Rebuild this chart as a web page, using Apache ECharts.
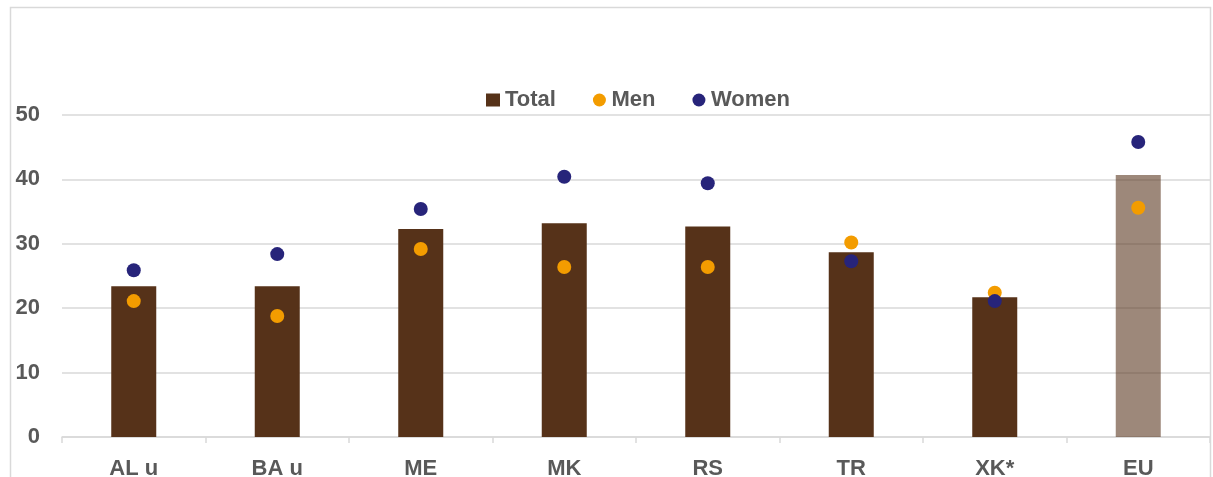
<!DOCTYPE html>
<html>
<head>
<meta charset="utf-8">
<script src="https://cdn.jsdelivr.net/npm/echarts@6/dist/echarts.min.js"></script>
<style>
  html, body { margin: 0; padding: 0; background: #fff; }
  #chart { width: 1213px; height: 477px; }
</style>
</head>
<body>
<div id="chart"></div>
<script>
// Share of population by economy: total (bars), men and women (dots)
const categories = ['AL u', 'BA u', 'ME', 'MK', 'RS', 'TR', 'XK*', 'EU'];
const totalValues = [23.4, 23.4, 32.3, 33.2, 32.7, 28.7, 21.7, 40.7];
const menValues = [21.1, 18.8, 29.2, 26.4, 26.4, 30.2, 22.4, 35.6];
const womenValues = [25.9, 28.4, 35.4, 40.4, 39.4, 27.3, 21.1, 45.8];
const yTicks = [0, 10, 20, 30, 40, 50];

const FONT = '"Liberation Sans", Arial, sans-serif';
const TEXT = '#595959';
const BROWN = '#563219';
const EU_BROWN = 'rgba(86,50,25,0.58)';
const ORANGE = '#f39c00';
const NAVY = '#27247a';

const chart = echarts.init(document.getElementById('chart'), null, { renderer: 'canvas' });

chart.setOption({
  animation: false,
  backgroundColor: '#fff',
  textStyle: { fontFamily: FONT },
  graphic: [{
    type: 'rect',
    shape: { x: 10.5, y: 7.5, width: 1200, height: 480 },
    style: { fill: 'none', stroke: '#d9d9d9', lineWidth: 1.5 },
    silent: true,
    z: -1
  }],
  legend: {
    top: 84,
    left: 481,
    itemGap: 37,
    itemWidth: 14,
    itemHeight: 13,
    textStyle: { fontFamily: FONT, fontSize: 22, fontWeight: 'bold', color: TEXT },
    data: [
      { name: 'Total', icon: 'rect', itemStyle: { borderWidth: 0 } },
      { name: 'Men', icon: 'circle' },
      { name: 'Women', icon: 'circle' }
    ]
  },
  grid: { left: 62, right: 3, top: 115, bottom: 40, containLabel: false, outerBoundsMode: 'none' },
  xAxis: {
    type: 'category',
    data: categories,
    axisLine: { lineStyle: { color: '#d9d9d9', width: 1.5 } },
    axisTick: { show: true, length: 6, lineStyle: { color: '#d9d9d9', width: 1.5 } },
    axisLabel: { fontFamily: FONT, fontSize: 22, fontWeight: 'bold', color: TEXT, margin: 21 }
  },
  yAxis: {
    type: 'value',
    min: yTicks[0],
    max: yTicks[yTicks.length - 1],
    interval: 10,
    axisLine: { show: false },
    axisTick: { show: false },
    splitLine: { lineStyle: { color: '#d9d9d9', width: 1.5 } },
    axisLabel: { fontFamily: FONT, fontSize: 22, fontWeight: 'bold', color: TEXT, margin: 22 }
  },
  series: [
    {
      name: 'Total',
      type: 'bar',
      barWidth: 45,
      itemStyle: { color: BROWN },
      data: totalValues.map((v, i) => ({
        value: v,
        itemStyle: { color: categories[i] === 'EU' ? EU_BROWN : BROWN }
      })),
      z: 2
    },
    {
      name: 'Men',
      type: 'scatter',
      symbol: 'circle',
      symbolSize: 14,
      itemStyle: { color: ORANGE, opacity: 1 },
      data: menValues,
      z: 3
    },
    {
      name: 'Women',
      type: 'scatter',
      symbol: 'circle',
      symbolSize: 14,
      itemStyle: { color: NAVY, opacity: 1 },
      data: womenValues,
      z: 4
    }
  ]
});
</script>
</body>
</html>
